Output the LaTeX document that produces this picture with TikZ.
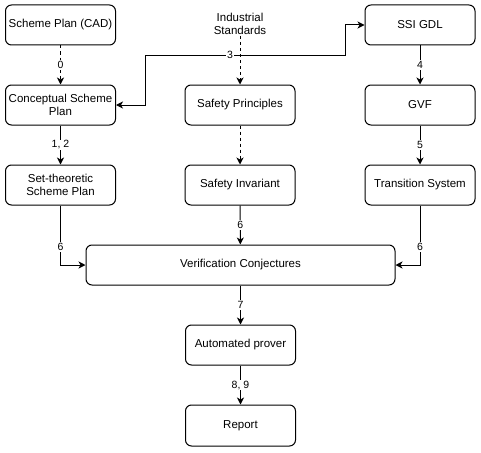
\documentclass[tikz,border=0pt]{standalone}
\usepackage{fontspec}
\setmainfont{Liberation Sans}
\usetikzlibrary{arrows.meta}
\begin{document}
\begin{tikzpicture}[x=1pt,y=-1pt,
  box/.style={draw, line width=1pt, rounded corners=6pt, minimum width=110pt, minimum height=40pt, align=center, font=\fontsize{11.5}{13}\selectfont, inner sep=1pt},
  conn/.style={line width=1pt, -{Stealth[length=7pt,width=7pt,inset=2pt]}},
  dconn/.style={conn, dash pattern=on 3pt off 3pt},
  lbl/.style={fill=white, font=\fontsize{10.5}{12}\selectfont, inner sep=1pt}]
\useasboundingbox (0,0) rectangle (481,452);
\node[box] (cad) at (60.5,25) {Scheme Plan (CAD)};
\node[box] (csp) at (60.5,105) {Conceptual Scheme\\Plan};
\node[box] (stsp) at (60.5,185) {Set-theoretic\\Scheme Plan};
\node[align=center, font=\fontsize{11.5}{13}\selectfont, inner sep=1pt] (ind) at (240,24) {Industrial\\Standards};
\node[box] (sp) at (240,105) {Safety Principles};
\node[box] (si) at (240,185) {Safety Invariant};
\node[box] (ssi) at (420,25) {SSI GDL};
\node[box] (gvf) at (420,105) {GVF};
\node[box] (ts) at (420,185) {Transition System};
\node[box, minimum width=309pt] (vc) at (240.5,265) {Verification Conjectures};
\node[box] (ap) at (240.5,345) {Automated prover};
\node[box, minimum height=41pt] (rep) at (240.5,425.5) {Report};
\coordinate (a1) at (145,105);
\coordinate (a2) at (145,55);
\coordinate (a3) at (345,55);
\coordinate (a4) at (345,25);
% connectors
\draw[dconn] (cad) -- node[lbl] {0} (csp);
\draw[conn] (csp) -- node[lbl] {1, 2} (stsp);
\draw[dconn] (240,36) -- (sp);
\draw[conn, {Stealth[length=7pt,width=7pt,inset=2pt]}-{Stealth[length=7pt,width=7pt,inset=2pt]}] (csp.east) -- (a1) -- (a2) -- (a3) -- (a4) -- (ssi.west);
\node[lbl] (l3) at (230,55) {3};
\draw[dconn] (sp) -- (si);
\draw[conn] (ssi) -- node[lbl] {4} (gvf);
\draw[conn] (gvf) -- node[lbl] {5} (ts);
\draw[conn] (si) -- node[lbl] {6} (vc);
\draw[conn] (stsp.south) |- node[lbl, pos=0.35] {6} (vc.west);
\draw[conn] (ts.south) |- node[lbl, pos=0.35] {6} (vc.east);
\draw[conn] (vc.south -| ap) -- node[lbl] {7} (ap);
\draw[conn] (ap) -- node[lbl] {8, 9} (rep);
\end{tikzpicture}
\end{document}
